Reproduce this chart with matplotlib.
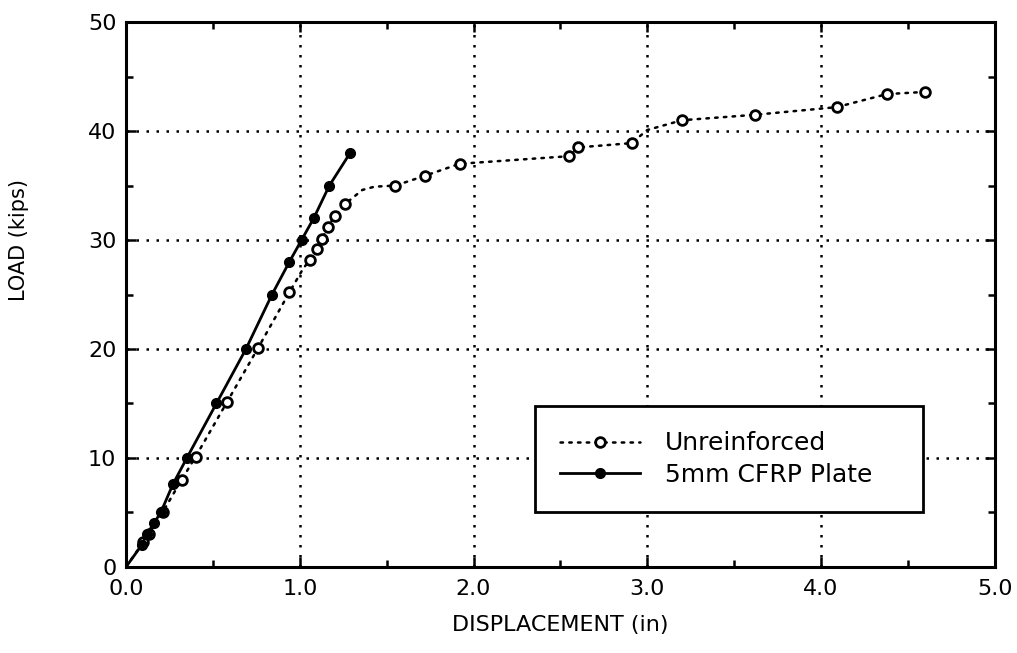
import matplotlib.pyplot as plt
import numpy as np
from matplotlib.ticker import MultipleLocator

plt.rcParams['font.family'] = ['DejaVu Sans']

# CFRP plated beam (filled markers)
cfrp_x = [0.0, 0.09, 0.12, 0.16, 0.20, 0.27, 0.35, 0.52, 0.69, 0.84, 0.94, 1.01, 1.08, 1.17, 1.29]
cfrp_y = [0.0, 2.0, 3.0, 4.0, 5.0, 7.6, 10.0, 15.0, 20.0, 25.0, 28.0, 30.0, 32.0, 35.0, 38.0]

# Unreinforced beam (open markers); unmarked entries are bends of the dotted trace
unr_x = [0.0, 0.10, 0.13, 0.21, 0.32, 0.40, 0.58, 0.76, 0.94, 1.02, 1.06, 1.10, 1.13, 1.16, 1.20,
         1.26, 1.36, 1.43, 1.55, 1.72, 1.92, 2.55, 2.60, 2.91, 3.00, 3.20, 3.62, 4.09, 4.38, 4.60]
unr_y = [0.0, 2.3, 3.0, 5.0, 8.0, 10.1, 15.1, 20.1, 25.2, 27.4, 28.2, 29.2, 30.1, 31.2, 32.2,
         33.3, 34.6, 34.9, 35.0, 35.9, 37.0, 37.7, 38.5, 38.9, 40.1, 41.0, 41.5, 42.2, 43.4, 43.6]
unr_marked = [False, True, True, True, True, True, True, True, True, False, True, True, True, True, True,
              True, False, False, True, True, True, True, True, True, False, True, True, True, True, True]

fig = plt.figure(figsize=(10.17, 6.53), dpi=100)
ax = fig.add_axes([0.124, 0.132, 0.854, 0.834])

ax.plot(unr_x, unr_y, color='black', linestyle=(0, (1, 2.5)), lw=1.8, dash_capstyle='round',
        marker='o', markersize=7, markerfacecolor='white', markeredgecolor='black', markeredgewidth=2,
        markevery=[i for i, m in enumerate(unr_marked) if m], label='Unreinforced')
ax.plot(cfrp_x, cfrp_y, color='black', linestyle='-', lw=2,
        marker='o', markersize=7, markerfacecolor='black', markeredgecolor='black',
        markevery=list(range(1, len(cfrp_x))), label='5mm CFRP Plate')

ax.set_xlim(0, 5)
ax.set_ylim(0, 50)
ax.xaxis.set_minor_locator(MultipleLocator(0.5))
ax.yaxis.set_major_locator(MultipleLocator(10))
ax.yaxis.set_minor_locator(MultipleLocator(5))
ax.set_xticks([0, 1, 2, 3, 4, 5])
ax.set_xticklabels(['0.0', '1.0', '2.0', '3.0', '4.0', '5.0'])

ax.tick_params(which='both', direction='in', top=True, right=True, width=1.8, labelsize=16)
ax.tick_params(which='major', length=7)
ax.tick_params(which='minor', length=5)
ax.tick_params(axis='x', pad=9)
ax.tick_params(axis='y', pad=7)
for s in ax.spines.values():
    s.set_linewidth(2.2)

ax.grid(True, which='major', color='black', linestyle=(0, (1, 3)), lw=1.8)

ax.set_xlabel('DISPLACEMENT (in)', fontsize=16, labelpad=11)
ax.set_ylabel('LOAD (kips)', fontsize=15)
ax.yaxis.set_label_coords(-0.112, 0.60)

leg = ax.legend(loc='lower left', bbox_to_anchor=(0.471, 0.101, 0.446, 0.202), mode='expand',
                fontsize=18, frameon=True, fancybox=False, edgecolor='black', framealpha=1,
                handlelength=3.2, borderpad=1.0, labelspacing=0.3, handletextpad=1.0,
                borderaxespad=0)
leg.get_frame().set_linewidth(2)

fig.savefig('out.png', dpi=100)
